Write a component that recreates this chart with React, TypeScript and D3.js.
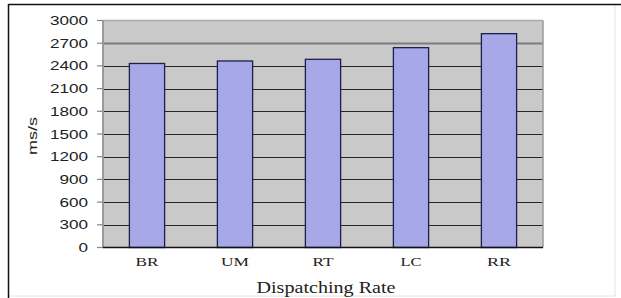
import React from "react";
import * as d3 from "d3";

const categories = ["BR", "UM", "RT", "LC", "RR"];
const values = [2432, 2465, 2487, 2641, 2826];
const yTicks = [0, 300, 600, 900, 1200, 1500, 1800, 2100, 2400, 2700, 3000];
const catLabelWidths = [23, 28, 21, 21, 24];
const yAxisTitle = "ms/s";
const xAxisTitle = "Dispatching Rate";

export default function App() {
  const W = 621, H = 298;
  const plot = { left: 103, right: 543, top: 20.5, bottom: 247.5 };
  const x = d3.scaleBand<string>().domain(categories).range([plot.left, plot.right]).paddingInner(0.6).paddingOuter(0.3);
  const y = d3.scaleLinear().domain([0, 3000]).range([plot.bottom, plot.top]);

  return (
    <svg width={W} height={H} style={{ position: "absolute", left: 0, top: 0, background: "#fff" }}>
      {/* outer frame */}
      <rect x={8.5} y={4.5} width={606.5} height={291.5} fill="#fff" stroke="#e4e4e4" strokeWidth={1} />
      <line x1={8.5} x2={621} y1={4.5} y2={4.5} stroke="#111" strokeWidth={1.5} />
      <line x1={8.5} x2={8.5} y1={4} y2={298} stroke="#111" strokeWidth={1.5} />

      {/* plot background */}
      <rect x={plot.left} y={plot.top} width={plot.right - plot.left} height={plot.bottom - plot.top} fill="#c9c9c9" />

      {/* gridlines */}
      {yTicks.filter((t) => t > 0 && t < 3000).map((t) => (
        <line key={t} x1={plot.left} x2={plot.right} y1={Math.round(y(t)) + 0.5} y2={Math.round(y(t)) + 0.5}
          stroke={t === 2700 ? "#7c7c7c" : "#262626"} strokeWidth={t === 2700 ? 2 : 1.2} />
      ))}

      {/* plot border */}
      <line x1={plot.left} x2={plot.right} y1={plot.top} y2={plot.top} stroke="#aaa" strokeWidth={1.5} />
      <line x1={plot.right} x2={plot.right} y1={plot.top} y2={plot.bottom} stroke="#9a9a9a" strokeWidth={1.5} />
      <line x1={plot.left} x2={plot.left} y1={plot.top} y2={plot.bottom} stroke="#9a9a9a" strokeWidth={2} />

      {/* bars */}
      {categories.map((c, i) => (
        <rect key={c} x={x(c)!} y={y(values[i])} width={x.bandwidth()} height={plot.bottom - y(values[i])}
          fill="#a6a8e8" stroke="#1e1e50" strokeWidth={1.3} />
      ))}

      {/* x axis line */}
      <line x1={plot.left} x2={plot.right} y1={plot.bottom} y2={plot.bottom} stroke="#111" strokeWidth={1.5} />

      {/* y ticks and labels */}
      {yTicks.map((t) => (
        <g key={t}>
          <line x1={97} x2={plot.left} y1={y(t)} y2={y(t)} stroke="#888" strokeWidth={1.2} />
          <text x={88} y={y(t)} dy="0.36em" textAnchor="end" fontFamily="Arial, 'Liberation Sans', sans-serif"
            fontSize={12.5} fill="#222" textLength={t === 0 ? 9.5 : String(t).length * 9.5} lengthAdjust="spacingAndGlyphs">
            {t}
          </text>
        </g>
      ))}

      {/* y axis title */}
      <text transform="translate(37,136) rotate(-90)" textAnchor="middle" fontFamily="Arial, 'Liberation Sans', sans-serif"
        fontSize={13} fill="#222" textLength={38} lengthAdjust="spacingAndGlyphs">
        {yAxisTitle}
      </text>

      {/* category labels */}
      {categories.map((c, i) => (
        <text key={c} x={x(c)! + x.bandwidth() / 2} y={265.5} textAnchor="middle"
          fontFamily="'Liberation Serif', 'Times New Roman', serif" fontSize={13.5} fill="#222"
          textLength={catLabelWidths[i]} lengthAdjust="spacingAndGlyphs">
          {c}
        </text>
      ))}

      {/* x axis title */}
      <text x={326} y={292.5} textAnchor="middle" fontFamily="'Liberation Serif', 'Times New Roman', serif"
        fontSize={17} fill="#222" textLength={139} lengthAdjust="spacingAndGlyphs">
        {xAxisTitle}
      </text>
    </svg>
  );
}
